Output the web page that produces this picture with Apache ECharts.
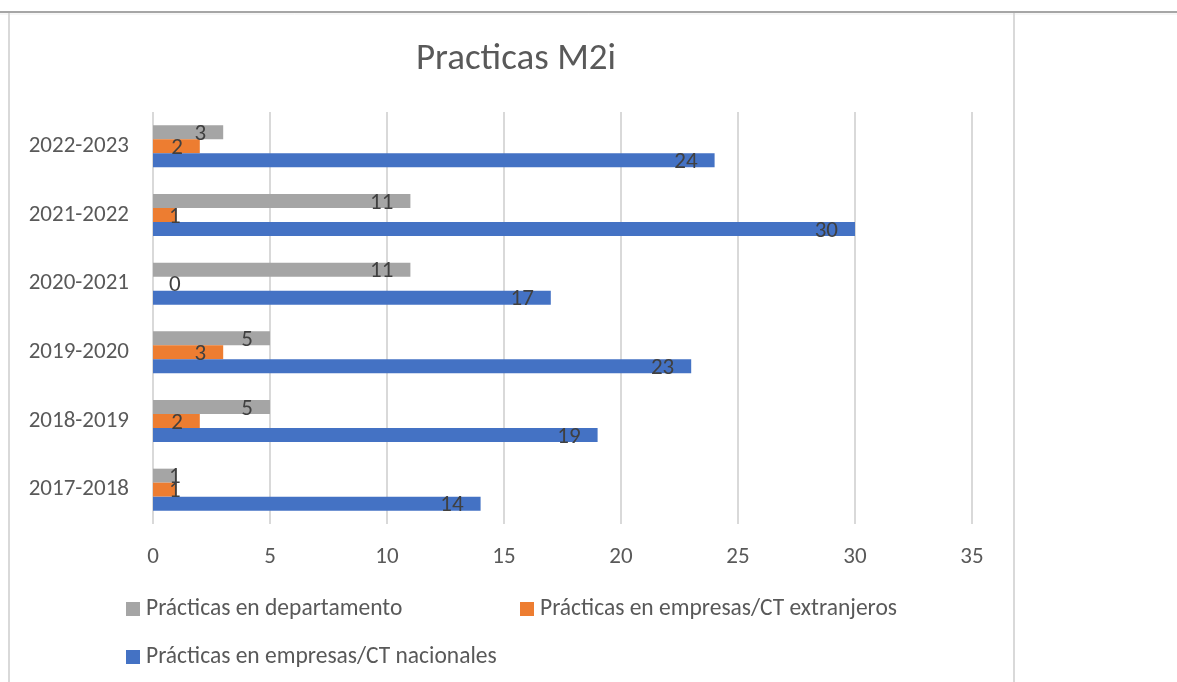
<!DOCTYPE html>
<html>
<head>
<meta charset="utf-8">
<title>Practicas M2i</title>
<script src="https://cdn.jsdelivr.net/npm/echarts@6/dist/echarts.min.js"></script>
<style>
  html, body { margin: 0; padding: 0; background: #fff; }
  #chart { width: 1177px; height: 682px; }
</style>
</head>
<body>
<div id="chart"></div>
<script>
// datos
const cursos = ['2017-2018', '2018-2019', '2019-2020', '2020-2021', '2021-2022', '2022-2023']
const nombreNacionales = 'Prácticas en empresas/CT nacionales'
const nombreExtranjeros = 'Prácticas en empresas/CT extranjeros'
const nombreDepartamento = 'Prácticas en departamento'
const nacionales = [14, 19, 23, 17, 30, 24]
const extranjeros = [1, 2, 3, 0, 1, 2]
const departamento = [1, 5, 5, 11, 11, 3]
const ticksX = [0, 5, 10, 15, 20, 25, 30, 35]

const FONT = 'Carlito, Calibri, Lato, sans-serif'
const TEXT = '#595959'
const LABEL = '#404040'
const GRID = '#d9d9d9'

const chart = echarts.init(document.getElementById('chart'))

// etiquetas: dentro al final, o a la izquierda si la barra es muy corta
const conEtiquetas = (valores) =>
  valores.map((v) =>
    v <= 1 ? { value: v, label: { position: 'insideLeft', distance: 16 } } : v
  )

const serie = (name, color, valores) => ({
  name,
  type: 'bar',
  barWidth: 14,
  barGap: '0%',
  itemStyle: { color },
  label: {
    show: true,
    position: 'insideRight',
    distance: 17,
    offset: [0, 2],
    color: LABEL,
    fontFamily: FONT,
    fontSize: 23,
  },
  data: conEtiquetas(valores),
})

const leyenda = (name, left, top) => ({
  data: [name],
  left,
  top,
  padding: 0,
  icon: 'rect',
  itemWidth: 14,
  itemHeight: 14,
  itemGap: 0,
  selectedMode: false,
  textStyle: { color: TEXT, fontFamily: FONT, fontSize: 23.5, padding: [0, 0, 0, 1] },
})

chart.setOption({
  animation: false,
  backgroundColor: '#fff',
  title: {
    text: 'Practicas M2i',
    left: 511,
    top: 36,
    textAlign: 'center',
    textStyle: { color: TEXT, fontFamily: FONT, fontSize: 37, fontWeight: 'normal' },
  },
  legend: [
    leyenda(nombreDepartamento, 126, 597),
    leyenda(nombreExtranjeros, 520, 597),
    leyenda(nombreNacionales, 126, 645),
  ],
  grid: { left: 153, top: 112, width: 819, height: 412, containLabel: false },
  xAxis: {
    type: 'value',
    min: ticksX[0],
    max: ticksX[ticksX.length - 1],
    interval: 5,
    axisLine: { show: false },
    axisTick: { show: false },
    axisLabel: { color: TEXT, fontFamily: FONT, fontSize: 23, margin: 22 },
    splitLine: { lineStyle: { color: GRID, width: 2 } },
  },
  yAxis: {
    type: 'category',
    data: cursos,
    axisLine: { show: false },
    axisTick: { show: false },
    axisLabel: { color: TEXT, fontFamily: FONT, fontSize: 23, margin: 24 },
  },
  // en ECharts la primera serie queda arriba dentro de cada grupo
  series: [
    serie(nombreDepartamento, '#a5a5a5', departamento),
    serie(nombreExtranjeros, '#ed7d31', extranjeros),
    serie(nombreNacionales, '#4472c4', nacionales),
  ],
  graphic: [
    { type: 'line', shape: { x1: 0, y1: 12, x2: 1177, y2: 12 }, style: { stroke: '#a6a6a6', lineWidth: 2 }, silent: true },
    { type: 'line', shape: { x1: 0, y1: 14, x2: 1177, y2: 14 }, style: { stroke: '#eeeeee', lineWidth: 1 }, silent: true },
    { type: 'line', shape: { x1: 9, y1: 13, x2: 9, y2: 682 }, style: { stroke: '#d9d9d9', lineWidth: 2 }, silent: true },
    { type: 'line', shape: { x1: 1014, y1: 13, x2: 1014, y2: 682 }, style: { stroke: '#d9d9d9', lineWidth: 2 }, silent: true },
  ],
})

window.addEventListener('resize', () => chart.resize())
</script>
</body>
</html>
